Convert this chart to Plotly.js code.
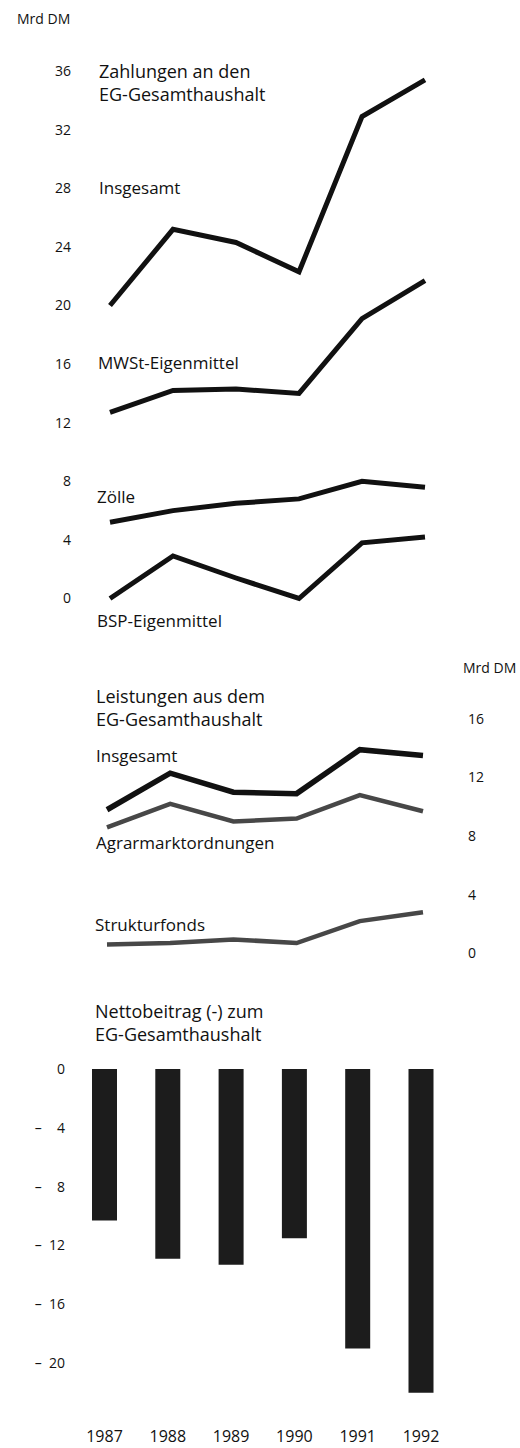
<!DOCTYPE html>
<html>
<head>
<meta charset="utf-8">
<script src="https://cdn.plot.ly/plotly-3.0.1.min.js"></script>
<style>
  html, body { margin: 0; padding: 0; background: #fff; }
  #chart { width: 520px; height: 1448px; }
</style>
</head>
<body>
<div id="chart"></div>
<script>
// ---- data (Mrd DM) ----
const years = [1987, 1988, 1989, 1990, 1991, 1992];
const zahlungenInsgesamt = [20.0, 25.2, 24.3, 22.3, 32.9, 35.4];
const mwstEigenmittel = [12.7, 14.2, 14.3, 14.0, 19.1, 21.7];
const zoelle = [5.2, 6.0, 6.5, 6.8, 8.0, 7.6];
const bspEigenmittel = [0.0, 2.9, 1.4, 0.0, 3.8, 4.2];
const leistungenInsgesamt = [9.8, 12.3, 11.0, 10.9, 13.9, 13.5];
const agrarmarktordnungen = [8.6, 10.2, 9.0, 9.2, 10.8, 9.7];
const strukturfonds = [0.6, 0.7, 0.95, 0.7, 2.2, 2.8];
const nettobeitrag = [-10.3, -12.9, -13.3, -11.5, -19.0, -22.0];

const topTicks = [0, 4, 8, 12, 16, 20, 24, 28, 32, 36];
const midTicks = [0, 4, 8, 12, 16];
const botTickVals = [0, -4, -8, -12, -16, -20];
const botTickText = ["0", "–\u00a0\u00a0\u20074", "–\u00a0\u00a0\u20078", "–\u00a0\u00a012", "–\u00a0\u00a016", "–\u00a0\u00a020"];
const yearLabels = ["1987", "1988", "1989", "1990", "1991", "1992"];

// ---- layout helpers (pixel -> paper) ----
const W = 520, H = 1448;
const px = v => v / W;
const py = v => 1 - v / H;
const FONT = "Open Sans, Noto Sans, sans-serif";

const BLACK = "#111111";
const GREY = "#474747";

const traces = [
  {x: years, y: zahlungenInsgesamt, xaxis: "x", yaxis: "y", mode: "lines", line: {color: BLACK, width: 5}},
  {x: years, y: mwstEigenmittel, xaxis: "x", yaxis: "y", mode: "lines", line: {color: BLACK, width: 5}},
  {x: years, y: zoelle, xaxis: "x", yaxis: "y", mode: "lines", line: {color: BLACK, width: 5}},
  {x: years, y: bspEigenmittel, xaxis: "x", yaxis: "y", mode: "lines", line: {color: BLACK, width: 5}},
  {x: years, y: leistungenInsgesamt, xaxis: "x2", yaxis: "y2", mode: "lines", line: {color: BLACK, width: 5.5}},
  {x: years, y: agrarmarktordnungen, xaxis: "x2", yaxis: "y2", mode: "lines", line: {color: GREY, width: 4.5}},
  {x: years, y: strukturfonds, xaxis: "x2", yaxis: "y2", mode: "lines", line: {color: GREY, width: 4.5}},
  {x: years, y: nettobeitrag, xaxis: "x3", yaxis: "y3", type: "bar", width: 0.395,
   marker: {color: "#1c1c1c", line: {width: 0}}}
];

const axisBase = {showgrid: false, zeroline: false, showline: false, ticks: "", fixedrange: true,
  tickfont: {family: FONT, size: 14, color: "#111"}};

function ann(text, x, y, size, xanchor) {
  return {text: text, x: px(x), y: py(y), xref: "paper", yref: "paper",
    xanchor: xanchor || "left", yanchor: "middle", align: "left", showarrow: false,
    font: {family: FONT, size: size, color: "#111"}};
}

const layout = {
  width: W, height: H,
  margin: {l: 0, r: 0, t: 0, b: 0},
  paper_bgcolor: "#fff", plot_bgcolor: "#fff",
  showlegend: false,
  // top panel
  xaxis: Object.assign({}, axisBase, {domain: [px(60), px(480)], range: [1986.2063, 1992.873], visible: false, anchor: "y"}),
  yaxis: Object.assign({}, axisBase, {domain: [py(627.8), py(41.8)], range: [-2, 38], tickvals: topTicks,
    anchor: "free", position: px(71), side: "left"}),
  // middle panel
  xaxis2: Object.assign({}, axisBase, {domain: [px(60), px(480)], range: [1986.2563, 1992.902], visible: false, anchor: "y2"}),
  yaxis2: Object.assign({}, axisBase, {domain: [py(968), py(689.6)], range: [-1, 18], tickvals: midTicks,
    anchor: "free", position: px(467), side: "right"}),
  // bottom panel
  xaxis3: Object.assign({}, axisBase, {domain: [px(60), px(480)], range: [1986.297, 1992.932], anchor: "y3",
    tickvals: years, ticktext: yearLabels, tickfont: {family: FONT, size: 16, color: "#111"}}),
  yaxis3: Object.assign({}, axisBase, {domain: [py(1425), py(1054.3)], range: [-24.2, 1],
    tickvals: botTickVals, ticktext: botTickText, anchor: "free", position: px(65), side: "left"}),
  annotations: [
    ann("Mrd DM", 15, 18, 14),
    ann("Zahlungen an den<br>EG-Gesamthaushalt", 97, 82, 18),
    ann("Insgesamt", 97, 188, 17),
    ann("MWSt-Eigenmittel", 96, 363, 17),
    ann("Zölle", 95, 496, 17),
    ann("BSP-Eigenmittel", 95, 620, 17),
    ann("Mrd DM", 461, 667, 14),
    ann("Leistungen aus dem<br>EG-Gesamthaushalt", 94, 707, 18),
    ann("Insgesamt", 94, 755, 17),
    ann("Agrarmarktordnungen", 94, 842, 17),
    ann("Strukturfonds", 93, 924, 17),
    ann("Nettobeitrag (-) zum<br>EG-Gesamthaushalt", 93, 1022, 18)
  ]
};

Plotly.newPlot("chart", traces, layout, {displayModeBar: false, staticPlot: true});
</script>
</body>
</html>
